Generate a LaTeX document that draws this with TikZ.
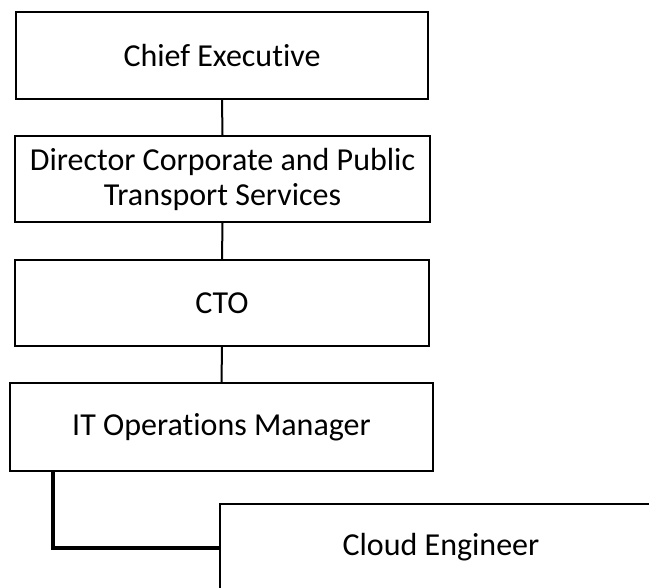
\documentclass[tikz,border=0pt]{standalone}
\usepackage{fontspec}
\setmainfont[Ligatures=NoCommon]{Carlito}
\begin{document}
\begin{tikzpicture}[x=1pt,y=-1pt,
  post/.style={draw=black,line width=2pt,fill=white,inner sep=0pt,
    font=\fontsize{32}{35}\selectfont,align=center},
  link/.style={draw=black,line width=2pt},
  boldlink/.style={draw=black,line width=4pt}]
\useasboundingbox (0,0) rectangle (649,588);
\clip (0,0) rectangle (649,588);
\node[post,minimum width=412pt,minimum height=87pt] (ce) at (222,55.5) {Chief Executive};
\node[post,minimum width=415pt,minimum height=86pt] (dir) at (222.5,179) {Director Corporate and Public\\Transport Services};
\node[post,minimum width=414pt,minimum height=86pt] (cto) at (222,303) {CTO};
\node[post,minimum width=423pt,minimum height=88pt] (itm) at (221.5,427) {IT Operations Manager};
\node[post,minimum width=442pt,minimum height=87pt] (cloud) at (441,547.5) {Cloud Engineer};
\coordinate (bend) at (52.7,547.5);
\draw[link] (ce.south) -- (dir.north);
\draw[link] (dir.south) -- (cto.north);
\draw[link] (cto.south) -- (itm.north);
\draw[boldlink] (itm.south west -| bend) -- (bend) -- (cloud.west);
\end{tikzpicture}
\end{document}
